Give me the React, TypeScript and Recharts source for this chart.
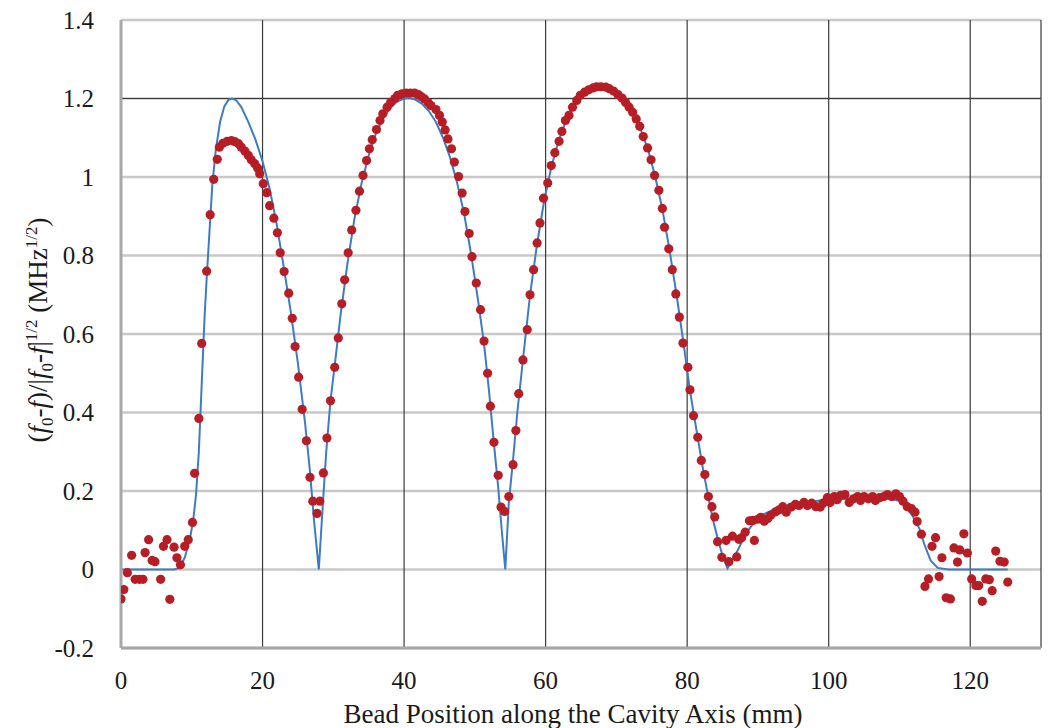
import React from 'react';
import { ComposedChart, Line, Scatter, XAxis, YAxis, CartesianGrid, ReferenceLine } from 'recharts';

const xTicks = [0, 20, 40, 60, 80, 100, 120];
const yTicks = [-0.2, 0, 0.2, 0.4, 0.6, 0.8, 1, 1.2, 1.4];
const cellWalls = [20, 40, 60, 80, 100, 120, 130];

// bead-pull measurements, [position (mm), value]
const entranceDots = [
  [0, -0.075], [0.4, -0.051], [0.9, -0.008], [1.5, 0.036], [2.0, -0.025], [2.6, -0.025],
  [3.1, -0.025], [3.4, 0.043], [3.9, 0.076], [4.4, 0.023], [4.8, 0.02], [5.6, -0.025],
  [6.0, 0.059], [6.5, 0.076], [6.9, -0.076], [7.5, 0.057], [7.9, 0.03], [8.4, 0.012],
  [9.0, 0.059], [9.5, 0.076], [10.1, 0.12],
];
const cell1Dots = [
  [10.4, 0.245], [11.0, 0.385], [11.4, 0.576], [12.1, 0.76], [12.6, 0.904], [13.1, 0.994],
  [13.6, 1.045], [13.9, 1.076], [14.4, 1.086], [15.0, 1.091], [15.6, 1.093], [16.1, 1.09],
  [16.6, 1.085], [17.0, 1.076], [17.5, 1.066], [18.0, 1.055], [18.4, 1.044], [18.9, 1.034],
  [19.3, 1.023], [19.6, 1.008], [20.1, 0.983], [20.6, 0.96], [21.0, 0.927], [21.6, 0.895],
  [22.1, 0.858], [22.5, 0.807], [23.05, 0.759], [23.7, 0.704], [24.2, 0.64], [24.6, 0.568],
  [25.1, 0.49], [25.6, 0.408], [26.2, 0.328], [26.7, 0.235], [27.1, 0.174], [27.7, 0.143],
  [28.1, 0.174], [28.6, 0.246], [29.1, 0.335], [29.6, 0.43], [30.2, 0.515], [30.7, 0.59],
  [31.2, 0.677], [31.6, 0.738],
];
const cell2Dots = [
  [32.1, 0.807], [32.6, 0.865], [33.2, 0.915], [33.7, 0.964], [34.2, 1.004], [34.7, 1.042],
  [35.1, 1.072], [35.5, 1.095], [36.1, 1.121], [36.6, 1.144], [37.0, 1.161], [37.6, 1.178],
  [38.1, 1.19], [38.7, 1.2], [39.1, 1.208], [39.7, 1.212], [40.3, 1.214], [40.9, 1.214],
  [41.5, 1.214], [42.0, 1.21], [42.4, 1.205], [42.9, 1.199], [43.4, 1.19], [43.8, 1.182],
  [44.5, 1.172], [45.0, 1.157], [45.4, 1.14], [45.8, 1.12], [46.2, 1.097], [46.7, 1.072],
  [47.1, 1.038], [47.7, 1.001], [48.2, 0.959], [48.6, 0.912], [49.2, 0.856], [49.6, 0.797],
  [50.2, 0.73], [50.8, 0.662], [51.3, 0.582], [51.8, 0.5], [52.2, 0.416], [52.7, 0.324],
  [53.3, 0.24], [53.7, 0.159], [54.2, 0.148], [54.8, 0.186], [55.4, 0.267], [55.8, 0.354],
  [56.2, 0.448], [56.8, 0.534], [57.4, 0.611], [57.8, 0.7], [58.3, 0.764], [58.8, 0.832],
  [59.2, 0.883], [59.7, 0.946],
];
const cell3Dots = [
  [60.3, 0.985], [60.8, 1.029], [61.3, 1.062], [61.9, 1.091], [62.3, 1.116], [62.8, 1.144],
  [63.3, 1.157], [63.8, 1.178], [64.4, 1.195], [64.9, 1.208], [65.5, 1.216], [66.1, 1.222],
  [66.7, 1.227], [67.2, 1.23], [67.8, 1.23], [68.5, 1.229], [69.0, 1.225], [69.6, 1.219],
  [70.2, 1.21], [70.8, 1.201], [71.3, 1.19], [71.8, 1.178], [72.3, 1.165], [72.8, 1.148],
  [73.3, 1.129], [73.8, 1.103], [74.4, 1.074], [74.9, 1.044], [75.4, 1.004], [76.0, 0.966],
  [76.5, 0.92], [76.8, 0.872], [77.4, 0.817], [77.9, 0.764], [78.4, 0.702], [78.9, 0.643],
  [79.4, 0.577], [80.1, 0.515], [80.4, 0.458], [80.9, 0.392], [81.5, 0.337], [82.0, 0.278],
  [82.5, 0.242], [83.0, 0.186], [83.5, 0.16], [83.9, 0.134], [84.3, 0.071], [84.9, 0.031],
];
const couplerDots = [
  [85.5, 0.074], [85.9, 0.02], [86.4, 0.085], [87.0, 0.032], [87.3, 0.077], [87.7, 0.081],
  [88.2, 0.095], [88.8, 0.124], [89.3, 0.125], [89.5, 0.074], [90.0, 0.128], [90.4, 0.133],
  [90.9, 0.123], [91.4, 0.13], [91.8, 0.138], [92.5, 0.147], [93.0, 0.152], [93.5, 0.16],
  [94.0, 0.146], [94.7, 0.159], [95.3, 0.166], [95.8, 0.163], [96.5, 0.171], [97.0, 0.163],
  [97.6, 0.169], [98.2, 0.16], [98.8, 0.159], [99.2, 0.169], [99.8, 0.183], [100.2, 0.171],
  [100.8, 0.186], [101.2, 0.178], [101.7, 0.189], [102.3, 0.191], [102.9, 0.171], [103.5, 0.18],
  [104.1, 0.186], [104.5, 0.176], [105.0, 0.186], [105.6, 0.18], [106.2, 0.186], [106.6, 0.176],
  [107.2, 0.183], [107.8, 0.186], [108.3, 0.191], [108.9, 0.186], [109.5, 0.193], [110.0, 0.186],
  [110.5, 0.174], [111.1, 0.16], [111.7, 0.155], [112.2, 0.146], [112.5, 0.122], [113.1, 0.09],
];
const exitDots = [
  [113.6, -0.043], [114.1, -0.024], [114.6, 0.059], [115.1, 0.081], [115.6, -0.018], [116.0, 0.03],
  [116.6, -0.072], [117.2, -0.075], [117.7, 0.055], [118.2, 0.019], [118.5, 0.05], [119.1, 0.091],
  [119.6, 0.042], [120.2, -0.024], [120.8, -0.041], [121.2, -0.041], [121.7, -0.081], [122.2, -0.024],
  [122.7, -0.026], [123.1, -0.054], [123.6, 0.047], [124.2, 0.021], [124.8, 0.019], [125.3, -0.032],
];

// simulated field profile, [position (mm), value]
const fitCurve = [
  [0, 0], [7.5, 0], [8.3, 0.004], [9, 0.03], [9.7, 0.074], [10.2, 0.125], [10.6, 0.19],
  [11, 0.3], [11.4, 0.47], [11.8, 0.64], [12.1, 0.74], [12.4, 0.83], [12.9, 0.98], [13.4, 1.07],
  [14, 1.14], [14.6, 1.18], [15.2, 1.197], [15.7, 1.2], [16.3, 1.195], [17, 1.178], [18, 1.14],
  [19, 1.095], [20, 1.04], [21, 0.97], [22, 0.88], [23, 0.77], [24, 0.655], [25, 0.525],
  [26, 0.375], [26.7, 0.25], [27.3, 0.12], [27.95, 0], [28.5, 0.16], [29, 0.3], [29.6, 0.43],
  [30.2, 0.52], [31, 0.645], [32, 0.78], [33, 0.895], [34, 0.985], [35, 1.055], [36, 1.11],
  [37, 1.148], [38, 1.175], [39, 1.192], [40, 1.2], [40.7, 1.201], [41.5, 1.198], [42.5, 1.187],
  [43.5, 1.168], [44.5, 1.14], [45.5, 1.1], [46.5, 1.05], [47.5, 0.985], [48.5, 0.905],
  [49.5, 0.8], [50.5, 0.68], [51.3, 0.575], [52, 0.455], [52.7, 0.32], [53.3, 0.21], [53.8, 0.1],
  [54.3, 0], [54.8, 0.17], [55.4, 0.28], [56, 0.4], [56.8, 0.535], [57.8, 0.7], [58.8, 0.83],
  [59.8, 0.94], [60.8, 1.025], [61.8, 1.09], [62.8, 1.14], [63.8, 1.177], [64.8, 1.203],
  [65.8, 1.219], [66.8, 1.226], [67.6, 1.228], [68.5, 1.226], [69.5, 1.217], [70.5, 1.203],
  [71.5, 1.182], [72.5, 1.155], [73.5, 1.118], [74.5, 1.068], [75.5, 1.0], [76.5, 0.918],
  [77.5, 0.815], [78.5, 0.7], [79.5, 0.575], [80.4, 0.455], [81.5, 0.335], [82.2, 0.26],
  [82.9, 0.193], [83.6, 0.13], [84.3, 0.08], [85, 0.035], [85.7, 0.003], [86.9, 0.04], [88, 0.08],
  [88.8, 0.104], [89.7, 0.125], [90.7, 0.14], [92.5, 0.155], [94.5, 0.165], [96.5, 0.171],
  [98.5, 0.175], [100.5, 0.178], [102.5, 0.18], [104.5, 0.181], [106.5, 0.181], [108.5, 0.18],
  [110, 0.175], [111, 0.158], [111.8, 0.138], [112.8, 0.105], [113.5, 0.065], [114.4, 0.023],
  [115.4, 0.004], [116.9, 0], [125.3, 0],
];

const toPoints = (rows: number[][]) => rows.map(([x, y]) => ({ x, y }));

const beadData = toPoints([
  ...entranceDots, ...cell1Dots, ...cell2Dots, ...cell3Dots, ...couplerDots, ...exitDots,
]);
const fitData = toPoints(fitCurve);

const FONT = '"Liberation Serif", "Times New Roman", serif';
const tickStyle = { fontFamily: FONT, fontSize: 25, fill: '#1a1a1a' };
const small = { fontSize: 17 };

const BeadDot = (props: any) => <circle cx={props.cx} cy={props.cy} r={4.6} fill="#b71d25" />;

export default function App() {
  return (
    <div style={{ position: 'absolute', left: 0, top: 0, width: 1048, height: 728, background: '#fff', fontFamily: FONT }}>
      <ComposedChart width={1048} height={728} margin={{ top: 20, right: 7, bottom: 0, left: 0 }}>
        <CartesianGrid vertical={false} stroke="#c8c8c8" strokeWidth={2.5} />
        {cellWalls.map((x) => (
          <ReferenceLine key={x} x={x} stroke="#3a3a3a" strokeWidth={1.2} />
        ))}
        <ReferenceLine y={1.2} stroke="#3a3a3a" strokeWidth={1.2} />
        <XAxis
          type="number"
          dataKey="x"
          domain={[0, 130]}
          ticks={xTicks}
          allowDataOverflow
          height={80}
          tickSize={0}
          tickLine={false}
          tickMargin={23}
          axisLine={{ stroke: '#a8a8a8', strokeWidth: 3 }}
          tick={tickStyle}
        />
        <YAxis
          type="number"
          dataKey="y"
          domain={[-0.2, 1.4]}
          ticks={yTicks}
          allowDataOverflow
          width={121}
          tickSize={0}
          tickLine={false}
          tickMargin={27}
          axisLine={{ stroke: '#a8a8a8', strokeWidth: 3 }}
          tick={tickStyle}
          tickFormatter={(v: number) => String(Number(v.toFixed(1)))}
        />
        <Line
          data={fitData}
          dataKey="y"
          type="linear"
          stroke="#3d7cc4"
          strokeWidth={2}
          dot={false}
          activeDot={false}
          isAnimationActive={false}
        />
        <Scatter data={beadData} dataKey="y" shape={BeadDot} isAnimationActive={false} />
      </ComposedChart>
      <div
        style={{
          position: 'absolute',
          left: 40,
          top: 330,
          transform: 'translate(-50%, -50%) rotate(-90deg)',
          whiteSpace: 'nowrap',
          fontSize: 27,
          color: '#1a1a1a',
        }}
      >
        (<i>f</i><sub style={small}>0</sub>-<i>f</i>)/|<i>f</i><sub style={small}>0</sub>-<i>f</i>|<sup style={small}>1/2</sup> (MHz<sup style={small}>1/2</sup>)
      </div>
      <div
        style={{
          position: 'absolute',
          left: 573,
          top: 701,
          transform: 'translateX(-50%)',
          whiteSpace: 'nowrap',
          fontSize: 27,
          lineHeight: '26px',
          color: '#1a1a1a',
        }}
      >
        Bead Position along the Cavity Axis (mm)
      </div>
    </div>
  );
}
